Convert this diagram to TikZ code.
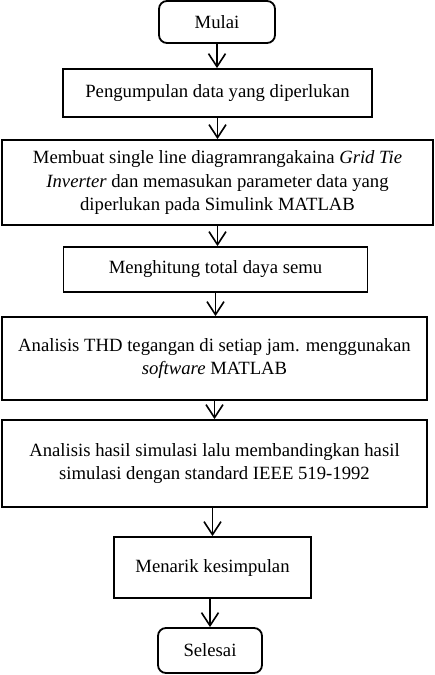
\documentclass[tikz,border=0pt]{standalone}
\usepackage{fontspec}
\setmainfont{Liberation Serif}
\usetikzlibrary{arrows.meta}
\begin{document}
\begin{tikzpicture}[x=1pt,y=-1pt,
  box/.style={draw,line width=1.8pt,rectangle,align=center,inner sep=0pt,
    font=\fontsize{18.7}{23.3}\selectfont},
  term/.style={box,rounded corners=8pt},
  conn/.style={line width=1.8pt,-{Straight Barb[length=13pt,width=17pt,line width=1.6pt]}}]
\useasboundingbox (0,0) rectangle (434,675);
\node[term,minimum width=116pt,minimum height=42pt] (mulai) at (217,22) {Mulai};
\node[box,minimum width=309pt,minimum height=48pt] (peng) at (217.5,93) {Pengumpulan data yang diperlukan};
\node[box,minimum width=431pt,minimum height=85pt] (buat) at (217.5,182.5) {Membuat single line diagramrangakaina \textit{Grid Tie}\\\textit{Inverter} dan memasukan parameter data yang\\diperlukan pada Simulink MATLAB};
\node[box,minimum width=304pt,minimum height=45pt] (hitung) at (215.5,269.5) {Menghitung total daya semu};
\node[box,minimum width=425pt,minimum height=83pt] (thd) at (214.5,358.5) {Analisis THD tegangan di setiap jam. menggunakan\\\textit{software} MATLAB};
\node[box,minimum width=425pt,minimum height=87pt] (hasil) at (214.5,463.5) {Analisis hasil simulasi lalu membandingkan hasil\\simulasi dengan standard IEEE 519-1992};
\node[box,minimum width=197pt,minimum height=61pt] (tarik) at (212.5,567.5) {Menarik kesimpulan};
\node[term,minimum width=104pt,minimum height=45pt] (selesai) at (210,650.5) {Selesai};
\draw[conn] (mulai.south) -- (mulai.south |- peng.north);
\draw[conn] (peng.south) -- (peng.south |- buat.north);
\draw[conn] (buat.south -| peng.south) -- (peng.south |- hitung.north);
\draw[conn] (hitung.south) -- (hitung.south |- thd.north);
\draw[conn] (thd.south) -- (thd.south |- hasil.north);
\draw[conn] (hasil.south -| tarik.north) -- (tarik.north);
\draw[conn] (tarik.south -| selesai.north) -- (selesai.north);
\end{tikzpicture}
\end{document}
